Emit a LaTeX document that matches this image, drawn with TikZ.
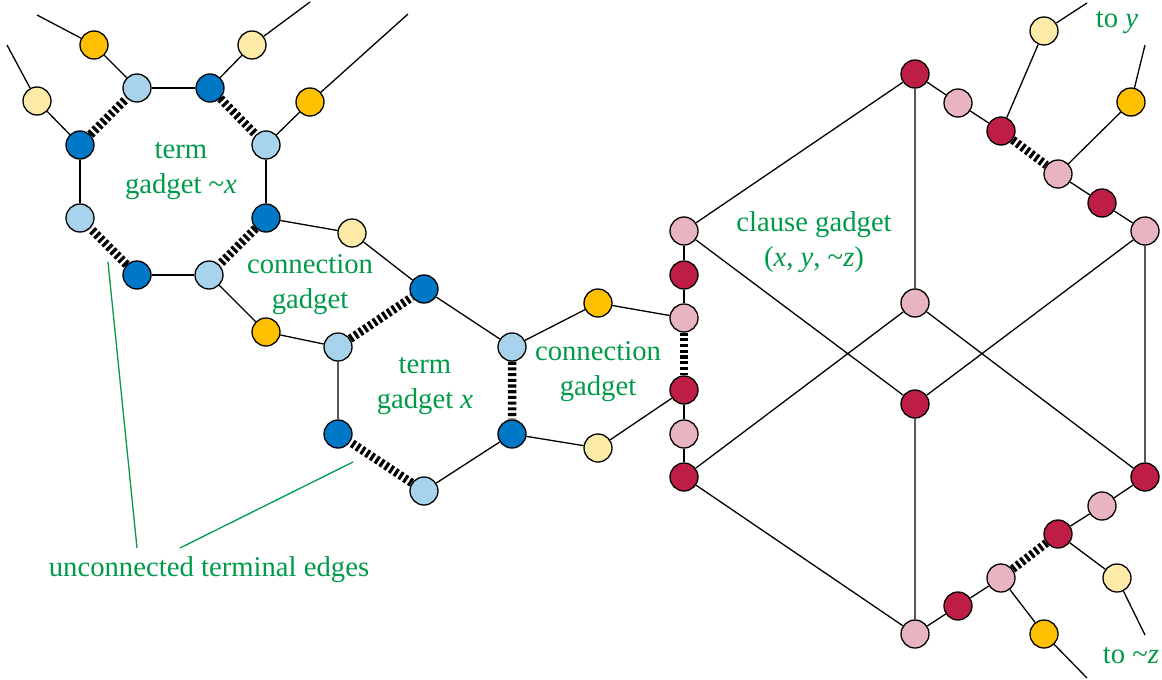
\documentclass[tikz,border=0pt]{standalone}
\usepackage{fontspec}
\setmainfont{Liberation Serif}
\usetikzlibrary{backgrounds}
\definecolor{lblue}{RGB}{167,211,236}
\definecolor{dblue}{RGB}{0,120,200}
\definecolor{orng}{RGB}{255,192,0}
\definecolor{lyel}{RGB}{255,235,168}
\definecolor{pnk}{RGB}{232,180,192}
\definecolor{dred}{RGB}{190,30,70}
\definecolor{tgreen}{RGB}{0,154,72}
\begin{document}
\begin{tikzpicture}[x=1pt,y=-1pt,
  v/.style={circle, draw, line width=1.3pt, minimum size=28pt, inner sep=0pt},
  lb/.style={v, fill=lblue}, db/.style={v, fill=dblue},
  og/.style={v, fill=orng}, ly/.style={v, fill=lyel},
  pk/.style={v, fill=pnk}, rd/.style={v, fill=dred},
  ed/.style={line width=1.3pt},
  dd/.style={line width=8.5pt, dash pattern=on 3.1pt off 2.6pt},
  gl/.style={draw=tgreen, line width=1.3pt},
  lbl/.style={text=tgreen, font=\fontsize{28.7}{35}\selectfont, align=center, inner sep=0pt}]
\useasboundingbox (0,0) rectangle (1162,680);
% term gadget ~x
\node[lb] (A1) at (137,88) {};
\node[db] (A2) at (210,88) {};
\node[lb] (A3) at (266,145) {};
\node[db] (A4) at (266,218) {};
\node[lb] (A5) at (209,275) {};
\node[db] (A6) at (137,275) {};
\node[lb] (A7) at (80,218) {};
\node[db] (A8) at (80,145) {};
\node[og] (P1) at (94,45) {};
\node[ly] (P2) at (37,101) {};
\node[ly] (P3) at (252,45) {};
\node[og] (P4) at (310,102) {};
\coordinate (e1) at (37,15);
\coordinate (e2) at (7,45);
\coordinate (e3) at (310,2);
\coordinate (e4) at (408,14);
% connection gadget 1
\node[ly] (Y1) at (352,233) {};
\node[og] (O1) at (266,332) {};
% term gadget x
\node[db] (B1) at (424,289) {};
\node[lb] (B2) at (512,347) {};
\node[db] (B3) at (512,434) {};
\node[lb] (B4) at (424,491) {};
\node[db] (B5) at (338,434) {};
\node[lb] (B6) at (338,347) {};
% connection gadget 2
\node[og] (O2) at (598,303) {};
\node[ly] (Y2) at (598,448) {};
% clause gadget
\node[pk] (C1) at (684,231) {};
\node[rd] (C2) at (684,275) {};
\node[pk] (C3) at (684,318) {};
\node[rd] (C4) at (684,390) {};
\node[pk] (C5) at (684,434) {};
\node[rd] (C6) at (684,477) {};
\node[rd] (T) at (915,74) {};
\node[pk] (T1) at (958,103) {};
\node[rd] (T2) at (1001,131) {};
\node[pk] (T3) at (1058,174) {};
\node[rd] (T4) at (1102,203) {};
\node[pk] (R1) at (1145,231) {};
\node[ly] (Yy) at (1044,31) {};
\node[og] (Oy) at (1131,102) {};
\coordinate (ey1) at (1087,3);
\coordinate (ey2) at (1145,45);
\node[pk] (M1) at (915,303) {};
\node[rd] (M2) at (915,404) {};
\node[rd] (R2) at (1145,477) {};
\node[pk] (Bt) at (915,634) {};
\node[rd] (Bt1) at (958,606) {};
\node[pk] (Bt2) at (1001,578) {};
\node[rd] (Bt3) at (1058,534) {};
\node[pk] (Bt4) at (1102,506) {};
\node[og] (Oz) at (1044,634) {};
\node[ly] (Yz) at (1117,578) {};
\coordinate (ez1) at (1087,678);
\coordinate (ez2) at (1145,635);
% labels
\node[lbl] (L1) at (181,171) {term\\gadget \textasciitilde\textit{x}};
\node[lbl] (L2) at (310,285) {connection\\gadget};
\node[lbl] (L3) at (425,386) {term\\gadget \textit{x}};
\node[lbl] (L4) at (598,372) {connection\\gadget};
\node[lbl] (L5) at (814,242) {clause gadget\\(\textit{x}, \textit{y}, \textasciitilde\textit{z})};
\node[lbl] (L6) at (1117,23) {to \textit{y}};
\node[lbl] (L7) at (1131,656) {to \textasciitilde\textit{z}};
\node[lbl] (L8) at (209,570) {unconnected terminal edges};
\coordinate (g1a) at (137,548);
\coordinate (g1b) at (108,262);
\coordinate (g2a) at (180,548);
\coordinate (g2b) at (353,462);
\begin{scope}[on background layer]
\draw[ed] (A1) -- (A2) (A3) -- (A4) (A5) -- (A6) (A7) -- (A8);
\draw[dd] (A2) -- (A3) (A4) -- (A5) (A6) -- (A7) (A8) -- (A1);
\draw[ed] (A1) -- (P1) -- (e1) (A8) -- (P2) -- (e2) (A2) -- (P3) -- (e3) (A3) -- (P4) -- (e4);
\draw[ed] (A4) -- (Y1) -- (B1) (A5) -- (O1) -- (B6);
\draw[ed] (B1) -- (B2) (B3) -- (B4) (B5) -- (B6);
\draw[dd] (B2) -- (B3) (B4) -- (B5) (B6) -- (B1);
\draw[ed] (B2) -- (O2) -- (C3) (B3) -- (Y2) -- (C4);
\draw[ed] (C1) -- (C2) -- (C3) (C4) -- (C5) -- (C6);
\draw[dd] (C3) -- (C4);
\draw[ed] (T) -- (C1) (T) -- (M1) (T) -- (T1) -- (T2) (T3) -- (T4) -- (R1);
\draw[dd] (T2) -- (T3);
\draw[ed] (T2) -- (Yy) -- (ey1) (T3) -- (Oy) -- (ey2);
\draw[ed] (C1) -- (M2) (M1) -- (C6) (M1) -- (R2) (M2) -- (R1) (M2) -- (Bt) (C6) -- (Bt) (R1) -- (R2);
\draw[ed] (Bt) -- (Bt1) -- (Bt2) (Bt3) -- (Bt4) -- (R2);
\draw[dd] (Bt2) -- (Bt3);
\draw[ed] (Bt2) -- (Oz) -- (ez1) (Bt3) -- (Yz) -- (ez2);
\draw[gl] (g1a) -- (g1b) (g2a) -- (g2b);
\end{scope}
\end{tikzpicture}
\end{document}
